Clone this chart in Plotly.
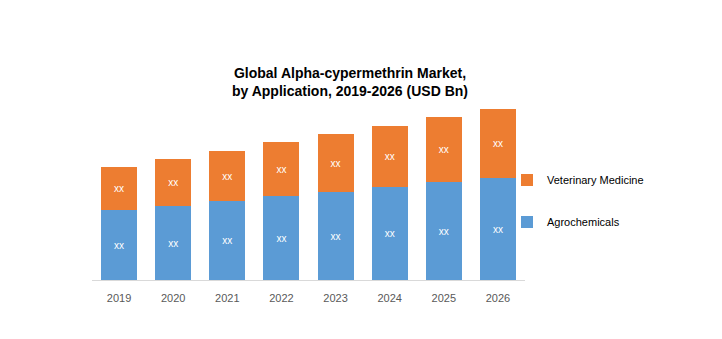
import plotly.graph_objects as go

years = ["2019", "2020", "2021", "2022", "2023", "2024", "2025", "2026"]
agrochemicals = [7.0, 7.4, 7.9, 8.4, 8.8, 9.3, 9.8, 10.2]
veterinary = [4.3, 4.7, 5.0, 5.4, 5.8, 6.1, 6.5, 6.9]
agro_labels = ["xx"] * len(years)
vet_labels = ["xx"] * len(years)

FONT = "Liberation Sans"

fig = go.Figure()
fig.add_trace(go.Bar(
    x=years, y=agrochemicals, name="Agrochemicals",
    marker=dict(color="#5B9BD5", line=dict(width=0)),
    text=agro_labels, textposition="inside", insidetextanchor="middle",
    textfont=dict(color="white", size=10, family=FONT),
    legendgroup="a", legendrank=2, hoverinfo="x+y",
))
fig.add_trace(go.Bar(
    x=years, y=veterinary, name="Veterinary Medicine",
    marker=dict(color="#ED7D31", line=dict(width=0)),
    text=vet_labels, textposition="inside", insidetextanchor="middle",
    textfont=dict(color="white", size=10, family=FONT),
    legendgroup="v", legendrank=1, hoverinfo="x+y",
))

fig.update_layout(
    width=722, height=339,
    barmode="stack", bargap=0.333,
    paper_bgcolor="white", plot_bgcolor="white",
    margin=dict(l=92, r=197, t=100, b=59, autoexpand=False),
    font=dict(family=FONT, color="#595959"),
    title=dict(
        text="<b>Global Alpha-cypermethrin Market,<br>by Application, 2019-2026 (USD Bn)</b>",
        x=350 / 722, xanchor="center", xref="container",
        y=1 - 78 / 339, yanchor="middle", yref="container",
        font=dict(size=14, color="black", family=FONT),
    ),
    xaxis=dict(
        showgrid=False, showline=True, linecolor="#D9D9D9", linewidth=1,
        ticks="outside", ticklen=8, tickcolor="rgba(0,0,0,0)",
        tickfont=dict(size=11, color="#595959"),
    ),
    yaxis=dict(range=[0, 18], visible=False, showgrid=False, zeroline=False),
    legend=dict(
        traceorder="grouped", tracegroupgap=23,
        x=507 / 722, xref="container", xanchor="left",
        y=1 - 201 / 339, yref="container", yanchor="middle",
        font=dict(size=11, color="black", family=FONT),
        itemwidth=30, bgcolor="rgba(0,0,0,0)",
    ),
)

fig.write_html("out.html")
